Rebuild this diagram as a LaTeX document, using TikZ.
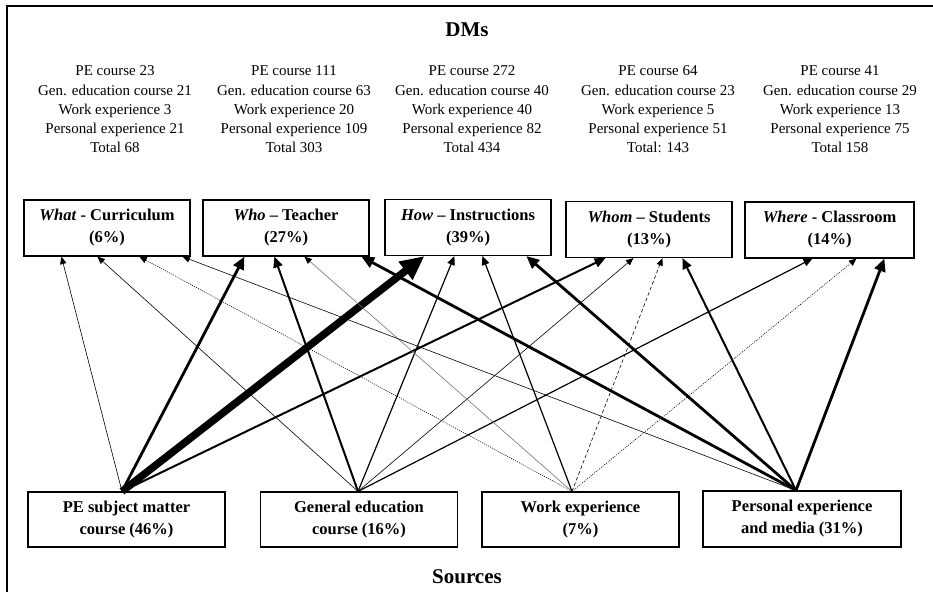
\documentclass[tikz,border=0pt]{standalone}
\usepackage{fontspec}
\setmainfont{Liberation Serif}
\usetikzlibrary{arrows.meta,calc}
\begin{document}
\begin{tikzpicture}[x=1pt,y=-1pt,
  box/.style={draw,line width=1.2pt,minimum width=166pt,minimum height=56pt,align=center,inner sep=0pt,font=\fontsize{16.5}{22}\selectfont\bfseries},
  src/.style={box,minimum width=197pt,minimum height=55pt},
  cnt/.style={align=center,font=\fontsize{15}{19.2}\selectfont,inner sep=0pt},
  ttl/.style={font=\fontsize{21}{25}\selectfont\bfseries,inner sep=0pt},
  arr/.style={-{Triangle[length=6pt 2.4,width=5pt 2.2]}},
  thinl/.style={arr,line width=0.6pt},
  grayl/.style={line width=0.6pt,draw=black!55,-{Triangle[length=6pt 2.4,width=5pt 2.2,color=black]}},
  dotl/.style={arr,line width=0.6pt,dash pattern=on 1pt off 1.2pt},
  dashl/.style={arr,line width=0.6pt,dash pattern=on 3.5pt off 2.5pt},
  medl/.style={arr,line width=1.2pt},
  thkl/.style={arr,line width=2pt},
  thkkl/.style={arr,line width=2.8pt},
  hugel/.style={arr,line width=7.5pt}
]
\useasboundingbox (0,0) rectangle (933,601);
\draw[line width=1.5pt] (7,592) -- (7,6) -- (933,6);

\node[ttl] (dms) at (467,30) {DMs};
\node[ttl] (sources) at (467,577) {Sources};

\node[cnt] (c1) at (115,109.5) {PE course 23\\Gen. education course 21\\Work experience 3\\Personal experience 21\\Total 68};
\node[cnt] (c2) at (294,109.5) {PE course 111\\Gen. education course 63\\Work experience 20\\Personal experience 109\\Total 303};
\node[cnt] (c3) at (472,109.5) {PE course 272\\Gen. education course 40\\Work experience 40\\Personal experience 82\\Total 434};
\node[cnt] (c4) at (658,109.5) {PE course 64\\Gen. education course 23\\Work experience 5\\Personal experience 51\\Total: 143};
\node[cnt] (c5) at (840,109.5) {PE course 41\\Gen. education course 29\\Work experience 13\\Personal experience 75\\Total 158};

\node[box] (what) at (107,228) {\textit{What} - Curriculum\\(6\%)};
\node[box] (who) at (286,228) {\textit{Who} -- Teacher\\(27\%)};
\node[box] (how) at (468,227.5) {\textit{How} -- Instructions\\(39\%)};
\node[box] (whom) at (649,229.5) {\textit{Whom} -- Students\\(13\%)};
\node[box,minimum width=169pt] (where) at (829.5,230) {\textit{Where} - Classroom\\(14\%)};

\node[src] (pe) at (126.5,519.5) {PE subject matter\\course (46\%)};
\node[src] (gen) at (359,519.5) {General education\\course (16\%)};
\node[src] (work) at (580.5,519.5) {Work experience\\(7\%)};
\node[src,minimum width=198pt,minimum height=56pt] (pers) at (802,519) {Personal experience\\and media (31\%)};

\coordinate (pe-o) at ($(pe.north)+(-4.5,0)$);
\coordinate (gen-o) at ($(gen.north)+(-1,0)$);
\coordinate (work-o) at ($(work.north)+(-8.5,0)$);
\coordinate (pers-o) at ($(pers.north)+(-6,0)$);

\coordinate (what-1) at ($(what.south west)+(38,0)$);
\coordinate (what-2) at ($(what.south west)+(74,0)$);
\coordinate (what-3) at ($(what.south west)+(116,0)$);
\coordinate (what-4) at ($(what.south west)+(159,0)$);
\coordinate (who-1) at ($(who.south west)+(42,0)$);
\coordinate (who-2) at ($(who.south west)+(72,0)$);
\coordinate (who-3) at ($(who.south west)+(102,0)$);
\coordinate (who-4) at ($(who.south west)+(159,0)$);
\coordinate (how-1) at ($(how.south west)+(40,0)$);
\coordinate (how-2) at ($(how.south west)+(70,0)$);
\coordinate (how-3) at ($(how.south west)+(98,0)$);
\coordinate (how-4) at ($(how.south west)+(142,0)$);
\coordinate (whom-1) at ($(whom.south west)+(40,0)$);
\coordinate (whom-2) at ($(whom.south west)+(68,0)$);
\coordinate (whom-3) at ($(whom.south west)+(97,0)$);
\coordinate (whom-4) at ($(whom.south west)+(117,0)$);
\coordinate (where-2) at ($(where.south west)+(68,0)$);
\coordinate (where-3) at ($(where.south west)+(112,0)$);
\coordinate (where-4) at ($(where.south west)+(140,0)$);

% PE subject matter course
\draw[thinl] (pe-o) -- (what-1);
\draw[thkkl] (pe-o) -- (who-1);
\draw[hugel] (pe-o) -- (how-1);
\draw[thkl] (pe-o) -- (whom-1);
% General education course
\draw[thinl] (gen-o) -- (what-2);
\draw[thkl] (gen-o) -- (who-2);
\draw[medl] (gen-o) -- (how-2);
\draw[thinl] (gen-o) -- (whom-2);
\draw[medl] (gen-o) -- (where-2);
% Work experience
\draw[dotl] (work-o) -- (what-3);
\draw[grayl] (work-o) -- (who-3);
\draw[medl] (work-o) -- (how-3);
\draw[dashl] (work-o) -- (whom-3);
\draw[dotl] (work-o) -- (where-3);
% Personal experience and media
\draw[thinl] (pers-o) -- (what-4);
\draw[thkkl] (pers-o) -- (who-4);
\draw[thkkl] (pers-o) -- (how-4);
\draw[thkl] (pers-o) -- (whom-4);
\draw[thkkl] (pers-o) -- (where-4);
\end{tikzpicture}
\end{document}
